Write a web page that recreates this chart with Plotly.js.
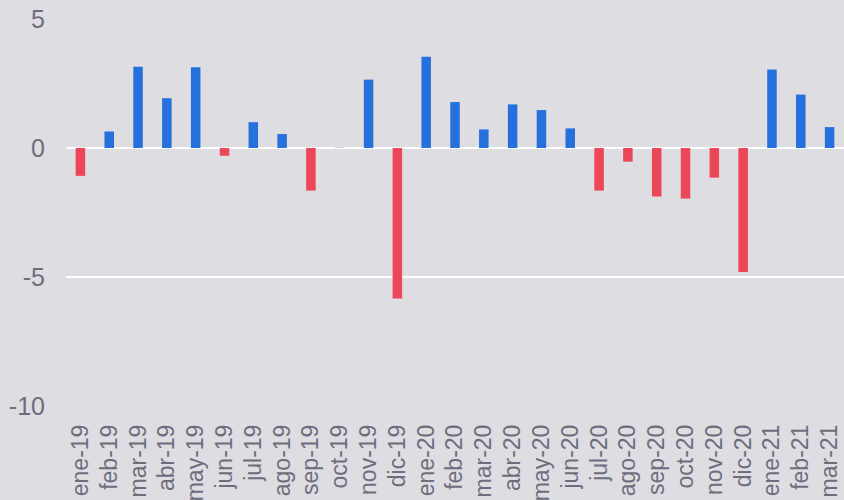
<!DOCTYPE html>
<html>
<head>
<meta charset="utf-8">
<script src="https://cdn.plot.ly/plotly-3.0.1.min.js"></script>
<style>html,body{margin:0;padding:0;background:#dedde2;}#chart{width:844px;height:500px;}</style>
</head>
<body>
<div id="chart"></div>
<script>
const months = ["ene-19","feb-19","mar-19","abr-19","may-19","jun-19","jul-19","ago-19","sep-19","oct-19","nov-19","dic-19",
"ene-20","feb-20","mar-20","abr-20","may-20","jun-20","jul-20","ago-20","sep-20","oct-20","nov-20","dic-20",
"ene-21","feb-21","mar-21"];
const values = [-1.08, 0.64, 3.15, 1.93, 3.13, -0.3, 1.0, 0.54, -1.65, 0.01, 2.65, -5.83,
3.54, 1.78, 0.72, 1.69, 1.47, 0.76, -1.65, -0.53, -1.88, -1.96, -1.15, -4.81,
3.04, 2.07, 0.81];
const yTickVals = [-10, -5, 0, 5];
const yTickText = ["-10", "-5", "0", "5"];
const posColor = "#2670de";
const negColor = "#ec4659";
const colors = values.map(v => v >= 0 ? posColor : negColor);

Plotly.newPlot("chart", [{
  type: "bar",
  x: months,
  y: values,
  marker: {color: colors, line: {width: 0}},
  hoverinfo: "x+y"
}], {
  width: 844, height: 500,
  margin: {l: 66, r: 0, t: 19, b: 94, pad: 0},
  paper_bgcolor: "#dedde2",
  plot_bgcolor: "#dedde2",
  bargap: 0.67,
  showlegend: false,
  font: {family: "Liberation Sans, Arial, sans-serif", color: "#6e6d7d"},
  xaxis: {
    type: "category",
    tickangle: -90,
    showgrid: false,
    showline: false,
    ticks: "",
    ticklabelstandoff: 13,
    tickfont: {size: 23, color: "#6e6d7d"}
  },
  yaxis: {
    range: [-10, 5],
    tickmode: "array",
    tickvals: yTickVals,
    ticktext: yTickText,
    showgrid: true,
    gridcolor: "#ffffff",
    gridwidth: 2,
    zeroline: true,
    zerolinecolor: "#ffffff",
    zerolinewidth: 2,
    showline: false,
    ticks: "",
    ticklabelstandoff: 20,
    tickfont: {size: 25, color: "#6e6d7d"}
  }
}, {displayModeBar: false, staticPlot: true});
</script>
</body>
</html>
